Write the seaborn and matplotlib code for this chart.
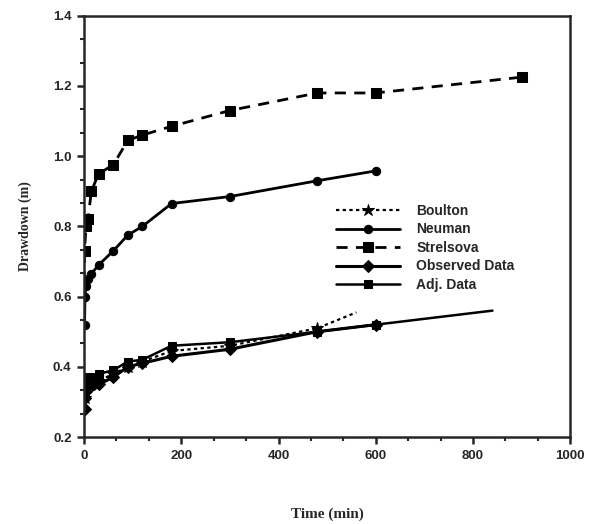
import numpy as np
import pandas as pd
import matplotlib
matplotlib.use("Agg")
import matplotlib.pyplot as plt
import seaborn as sns
from matplotlib.ticker import MultipleLocator, AutoMinorLocator

# drawdown data (time in min, drawdown in m)
strel_t = [0.5, 1, 4, 8, 15, 30, 60, 90, 120, 180, 300, 480, 600, 900]
strel_s = [0.64, 0.73, 0.80, 0.82, 0.90, 0.95, 0.975, 1.045, 1.06, 1.085, 1.13, 1.18, 1.18, 1.225]

neu_t = [1, 2, 4, 8, 15, 30, 60, 90, 120, 180, 300, 480, 600]
neu_s = [0.52, 0.60, 0.63, 0.65, 0.665, 0.69, 0.73, 0.775, 0.80, 0.865, 0.885, 0.93, 0.958]

boul_t = [1, 5, 10, 30, 60, 90, 120, 180, 300, 480, 560]
boul_s = [0.31, 0.34, 0.35, 0.36, 0.38, 0.40, 0.415, 0.445, 0.46, 0.51, 0.555]

obs_t = [1, 2, 5, 10, 20, 30, 60, 90, 120, 180, 300, 480, 600]
obs_s = [0.28, 0.31, 0.33, 0.34, 0.35, 0.35, 0.37, 0.40, 0.41, 0.43, 0.45, 0.50, 0.52]

adj_t = [1, 2, 5, 10, 20, 30, 60, 90, 120, 180, 300, 480, 600, 840]
adj_s = [0.33, 0.35, 0.36, 0.37, 0.37, 0.38, 0.39, 0.415, 0.42, 0.46, 0.47, 0.50, 0.52, 0.56]

sns.set_style("ticks")
plt.rcParams['font.family'] = ['Liberation Sans', 'DejaVu Sans']

fig, ax = plt.subplots(figsize=(5.94, 5.24), dpi=100)
fig.subplots_adjust(left=0.1415, right=0.96, top=0.97, bottom=0.166)

sns.lineplot(x=boul_t, y=boul_s, ax=ax, color="black", lw=1.6, dashes=False,
             linestyle=(0, (1.5, 1.5)), marker="*", markersize=9, mec="black",
             markevery=list(range(len(boul_t) - 1)), label="Boulton")
sns.lineplot(x=neu_t, y=neu_s, ax=ax, color="black", lw=2.0, marker="o",
             markersize=6, mec="black", label="Neuman")
sns.lineplot(x=strel_t, y=strel_s, ax=ax, color="black", lw=2.0,
             linestyle=(0, (4, 3)), marker="s", markersize=7, mec="black",
             label="Strelsova")
sns.lineplot(x=obs_t, y=obs_s, ax=ax, color="black", lw=2.2, marker="D",
             markersize=6, mec="black", label="Observed Data")
sns.lineplot(x=adj_t, y=adj_s, ax=ax, color="black", lw=1.8, marker="s",
             markersize=6, mec="black", markevery=list(range(len(adj_t) - 1)),
             label="Adj. Data")

ax.set_xlim(0, 1000)
ax.set_ylim(0.2, 1.4)
ax.xaxis.set_major_locator(MultipleLocator(200))
ax.yaxis.set_major_locator(MultipleLocator(0.2))
ax.xaxis.set_minor_locator(AutoMinorLocator(3))
ax.yaxis.set_minor_locator(AutoMinorLocator(3))
ax.yaxis.set_major_formatter(matplotlib.ticker.FormatStrFormatter("%.1f"))
ax.tick_params(which="major", direction="out", length=5, width=1.8,
               labelsize=9.5, pad=4)
ax.tick_params(which="minor", direction="out", length=3, width=1.5)
for lbl in ax.get_xticklabels() + ax.get_yticklabels():
    lbl.set_fontweight("bold")
for sp in ax.spines.values():
    sp.set_visible(True)
    sp.set_linewidth(1.8)

ax.set_xlabel("Time (min)", family="Liberation Serif", fontweight="bold",
              fontsize=11, labelpad=33)
ax.set_ylabel("Drawdown (m)", family="Liberation Serif", fontweight="bold",
              fontsize=10, labelpad=15)

leg = ax.legend(loc="upper left", bbox_to_anchor=(0.518, 0.553), frameon=False,
                fontsize=10, handlelength=4.6, handletextpad=1.2,
                labelspacing=0.32, borderpad=0, borderaxespad=0)
for t in leg.get_texts():
    t.set_fontweight("bold")

plt.savefig("out.png", dpi=100)
